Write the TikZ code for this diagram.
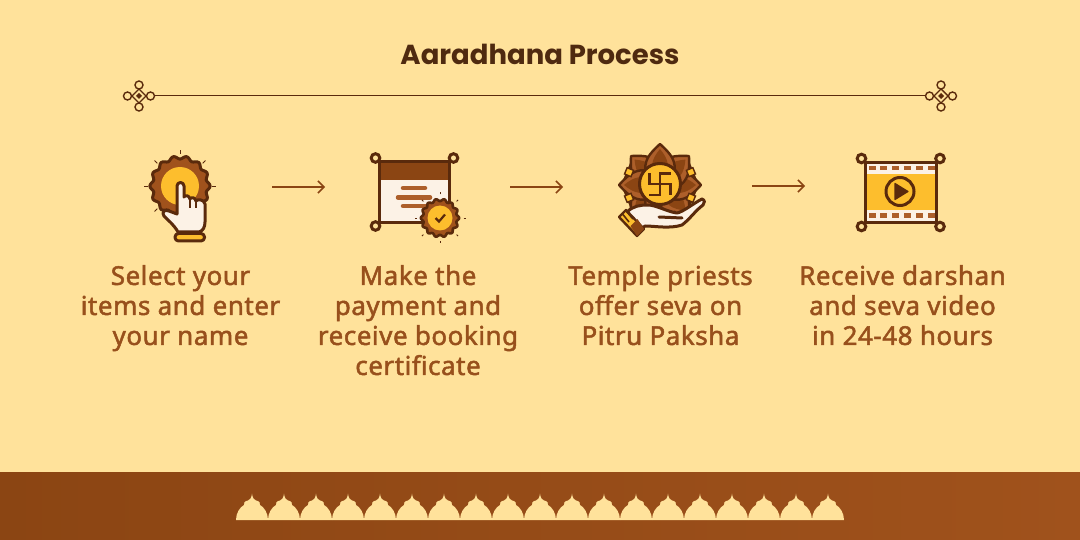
\documentclass[tikz,border=0pt]{standalone}
\usepackage{fontspec}
\setmainfont{Noto Sans}
\newfontfamily\stepfont{Noto Sans}[FakeBold=1.8,LetterSpace=2]
\newfontfamily\titlefont{Poppins}
\definecolor{bgc}{HTML}{FFE29B}
\definecolor{ink}{HTML}{5A2A0C}
\definecolor{brn}{HTML}{8B4513}
\definecolor{brnb}{HTML}{A0521C}
\definecolor{midb}{HTML}{AD5F2A}
\definecolor{gld}{HTML}{FDBE2D}
\definecolor{pale}{HTML}{FCF2E6}
\definecolor{txt}{HTML}{98501C}
\definecolor{ttl}{HTML}{4F2A10}
\newcommand{\scallop}[5]{plot[domain=0:360,samples=113,smooth,variable=\t]
 ({#1+(#3+#4*cos(#5*\t))*cos(\t)},{#2+(#3+#4*cos(#5*\t))*sin(\t)}) -- cycle}
\usetikzlibrary{arrows.meta}
\tikzset{
 x=1pt,y=-1pt,
 step label/.style={font=\stepfont\fontsize{26}{30}\selectfont,text=txt,align=center,anchor=north,inner sep=0pt},
 flow/.style={draw=brn,line width=1.5pt,-{Straight Barb[length=6pt,width=12pt,line width=1.5pt]}},
 ol/.style={draw=ink,line width=3pt,line join=round},
 ring/.style={draw=ink,line width=3pt,fill=bgc},
 knot/.style={draw=ink,line width=1.4pt,fill=none},
 spark/.style={draw=ink,line width=.9pt},
 barb/.style={draw=midb,line width=4.5pt,line cap=round},
 filmdash/.style={fill=midb},
}
\begin{document}
\begin{tikzpicture}
\useasboundingbox (0,0) rectangle (1080,540);
\fill[bgc] (0,0) rectangle (1080,540);
% band
\shade[left color=brn,right color=brnb,shading angle=90] (0,472) rectangle (1080,540);
\foreach \i in {0,...,18}{
 \fill[bgc,shift={({236+32*\i},520)}] (0,0) .. controls (0,-7) and (4,-13) .. (8,-15)
   .. controls (7,-17) and (9,-19) .. (12,-19.5)
   .. controls (14,-20) and (15.5,-22) .. (16,-26.5)
   .. controls (16.5,-22) and (18,-20) .. (20,-19.5)
   .. controls (23,-19) and (25,-17) .. (24,-15)
   .. controls (28,-13) and (32,-7) .. (32,0) -- cycle;
}
% title
\node[font=\titlefont\fontsize{27.5}{32}\selectfont\bfseries,text=ttl,inner sep=0pt] (title) at (540,54) {Aaradhana Process};
% divider
\foreach \n/\c in {orna/139,ornb/941}{
 \coordinate (\n) at (\c,96);
 \begin{scope}[shift={(\c,96)}]
  \draw[knot] (-7,0) -- (0,-7) -- (7,0) -- (0,7) -- cycle;
  \fill[ink] (-3,0) -- (0,-3) -- (3,0) -- (0,3) -- cycle;
  \draw[knot] (-11.5,0) circle (4) (11.5,0) circle (4) (0,-11) circle (4) (0,11) circle (4);
 \end{scope}
}
\coordinate (orna e) at (155,96); \coordinate (ornb w) at (925,96);
\draw[ink,line width=1pt] (orna e) -- (ornb w);
% icon 1
\begin{scope}
 \foreach \a in {0,-45,-90,-135,180,135}{
  \draw[spark] ({180+32*cos(\a)},{186+32*sin(\a)}) -- ({180+36*cos(\a)},{186+36*sin(\a)});
 }
 \fill[brnb] \scallop{180}{186}{28.5}{1.6}{14};
 \draw[ink,line width=3pt,line join=round] \scallop{180}{186}{28.5}{1.6}{14};
 \fill[gld] (180,186) circle (19);
 \path[ol,fill=pale] (177,214) -- (177,186) arc[start angle=180,end angle=360,radius=3.5] -- (184,197)
  .. controls (185,195) and (189,195) .. (190,199)
  .. controls (191,197) and (195,197) .. (196,201)
  .. controls (197,199) and (204,199) .. (205,204)
  -- (205,222) .. controls (205,227) and (203,231) .. (199,232) -- (178,232)
  .. controls (174,225) and (169,221) .. (164,216)
  .. controls (161,212) and (165,209) .. (169,211) -- cycle;
 \draw[ink,line width=1.6pt] (190,199) -- (190,208) (196,201) -- (196,208);
 \draw[ol,fill=gld,rounded corners=3.5pt] (175,233.5) rectangle (204.5,241);
\end{scope}
% arrow 1
\coordinate (a1s) at (272,187); \coordinate (a1e) at (325,187);
\draw[flow] (a1s) -- (a1e);
% icon 2
\begin{scope}
 \draw[ring] (375.5,158) circle (4.3) (453.5,158) circle (4.3) (375.5,226) circle (4.3);
 \fill[pale] (379,162) rectangle (449,223);
 \fill[brn] (379,162) rectangle (449,180);
 \draw[ol] (379,162) rectangle (449,223);
 \draw[barb] (403,188) -- (425,188) (398,197.5) -- (430,197.5) (403,206) -- (428,206);
 \foreach \a in {0,45,90,135,180,225,-45,-90}{
  \draw[spark,line width=.8pt] ({440+23.5*cos(\a)},{218+23.5*sin(\a)}) -- ({440+25.5*cos(\a)},{218+25.5*sin(\a)});
 }
 \fill[brnb] \scallop{440}{218}{18}{1.2}{14};
 \draw[ink,line width=2.6pt,line join=round] \scallop{440}{218}{18}{1.2}{14};
 \fill[gld] (440,218) circle (12.5);
 \draw[ink,line width=2.2pt] (435.5,218) -- (439,221.5) -- (445,214.5);
\end{scope}
% arrow 2
\coordinate (a2s) at (510,187); \coordinate (a2e) at (563,187);
\draw[flow] (a2s) -- (a2e);
% icon 3
\begin{scope}
 \foreach \a in {-157.5,-112.5,-67.5,-22.5,22.5,157.5}{
  \begin{scope}[shift={(660,185)},rotate=\a]
   \draw[ink,line width=2.2pt,fill=brnb] (14,-10) -- (35,-10) -- (35,10) -- (14,10) -- cycle;
  \end{scope}
 }
 \foreach \a in {-135,-90,-45,0,45,135,180,90}{
  \begin{scope}[shift={(660,185)},rotate=\a]
   \draw[ink,line width=2.4pt,fill=midb,line join=round] (10,-14) .. controls (24,-17) and (31,-11) .. (41,0) .. controls (31,11) and (24,17) .. (10,14) -- cycle;
   \fill[brn] (20,-8) .. controls (27,-7) and (31,-4) .. (36,0) .. controls (31,4) and (27,7) .. (20,8) -- cycle;
  \end{scope}
 }
 \foreach \a in {-157.5,-112.5,-67.5,-22.5,22.5,157.5}{
  \begin{scope}[shift={(660,185)},rotate=\a]
   \draw[ink,line width=1.4pt,fill=gld] (30,-3.4) -- (37,-3.4) -- (37,3.4) -- (30,3.4) -- cycle;
  \end{scope}
 }
 \draw[ol,fill=gld] (660,184) circle (20.5);
 \draw[ink,line width=2.6pt,line cap=butt,line join=miter]
   (660,184) -- (660,173.5) -- (671,173.5)
   (660,184) -- (670.5,184) -- (670.5,195)
   (660,184) -- (660,195) -- (649,195)
   (660,184) -- (649.5,184) -- (649.5,173);
 \path[ol,fill=pale] (627,212) .. controls (633,206) and (640,205) .. (648,205)
   .. controls (656,205) and (668,212) .. (677,213)
   .. controls (683,212) and (694,203) .. (702,199)
   .. controls (705,200) and (705,203) .. (703,205)
   .. controls (695,211) and (690,219) .. (682,225)
   .. controls (670,229) and (655,226) .. (645,226) -- (640,230) -- cycle;
 \draw[ink,line width=3pt,line cap=round] (659,217) -- (682,218);
 \draw[ol,line width=2.4pt,fill=gld] (619,217) -- (626,210) -- (644,229) -- (637,236) -- cycle;
 \fill[brn] (630.5,226) -- (637.5,219) -- (644,229) -- (637,236) -- cycle;
 \draw[ink,line width=1.6pt] (622.5,214) -- (629,222) (626,211) -- (633,219);
\end{scope}
% arrow 3
\coordinate (a3s) at (752,186); \coordinate (a3e) at (805,186);
\draw[flow] (a3s) -- (a3e);
% icon 4
\begin{scope}
 \draw[ring] (861.5,158.5) circle (4.3) (940,158.5) circle (4.3) (861.5,226.5) circle (4.3) (940,226.5) circle (4.3);
 \fill[pale] (865,163) rectangle (936,223);
 \fill[gld] (865,174) rectangle (936,210);
 \foreach \i in {0,...,5}{
  \fill[filmdash] ({868.5+11.8*\i},166) rectangle ++(7,4.5);
  \fill[filmdash] ({868.5+11.8*\i},213.5) rectangle ++(7,4.5);
 }
 \draw[ol] (865,163) rectangle (936,223);
 \draw[ol,fill=gld] (900,191.5) circle (14);
 \fill[ink,line join=round,draw=ink,line width=1.2pt] (895,183.5) -- (908,191.5) -- (895,199.5) -- cycle;
\end{scope}
% labels
\node[step label] (s1) at (180.5,265) {Select your\\items and enter\\your name};
\node[step label] (s2) at (418,265) {Make the\\payment and\\receive booking\\certificate};
\node[step label] (s3) at (660.5,265) {Temple priests\\offer seva on\\Pitru Paksha};
\node[step label] (s4) at (902.5,265) {Receive darshan\\and seva video\\in 24-48 hours};
\end{tikzpicture}
\end{document}
